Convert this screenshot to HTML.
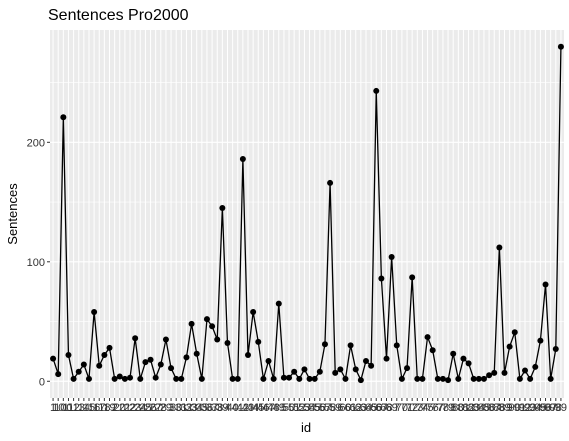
<!DOCTYPE html>
<html><head><meta charset="utf-8"><style>
body{margin:0;background:#fff;}
svg{display:block;font-family:"Liberation Sans",sans-serif;}
</style></head><body>
<svg id="chart" width="569" height="441">
<text x="48" y="20" font-size="16" fill="#000">Sentences Pro2000</text>
<text transform="translate(17,214) rotate(-90)" text-anchor="middle" font-size="13" fill="#000">Sentences</text>
<text x="306" y="432" text-anchor="middle" font-size="13" fill="#000">id</text>
</svg>
<script>
const values=[19,6,221,22,2,8,14,2,58,13,22,28,2,4,2,3,36,2,16,18,3,14,35,11,2,2,20,48,23,2,52,46,35,145,
32,2,2,186,22,58,33,2,17,2,65,3,3,8,2,10,2,2,8,31,166,7,10,2,30,10,1,17,13,243,86,19,104,
30,2,11,87,2,2,37,26,2,2,1,23,2,19,15,2,2,2,5,7,112,7,29,41,2,9,2,12,34,81,2,27,280];
const categories=[];for(let i=1;i<=100;i++)categories.push(String(i));categories.sort();
const yTicks=[0,100,200];
const yMinor=[50,150,250];
const svg=document.getElementById('chart');const NS='http://www.w3.org/2000/svg';
const L=50,R=564,T=30,B=398;
const ymin=-14,ymax=294;
const n=values.length;const step=(R-L)/(n-1+1.2);
function xs(i){return L+step*(0.6+i);}
function ys(v){return B-(v-ymin)/(ymax-ymin)*(B-T);}
function mk(t,a){const e=document.createElementNS(NS,t);for(const k in a)e.setAttribute(k,a[k]);svg.appendChild(e);return e;}
const bg=mk('rect',{x:L,y:T,width:R-L,height:B-T,fill:'#ebebeb'});


yMinor.forEach(v=>{const g=mk('line',{x1:L,x2:R,y1:ys(v),y2:ys(v),stroke:'#fff','stroke-width':0.6});

});
yTicks.forEach(v=>{const g=mk('line',{x1:L,x2:R,y1:ys(v),y2:ys(v),stroke:'#fff','stroke-width':1.2});


const tk=mk('line',{x1:L-3,x2:L,y1:ys(v),y2:ys(v),stroke:'#333','stroke-width':1});


const t=mk('text',{x:L-5,y:ys(v)+4,'text-anchor':'end','font-size':11,fill:'#333'});t.textContent=v;

});
categories.forEach((c,i)=>{const g=mk('line',{x1:xs(i),x2:xs(i),y1:T,y2:B,stroke:'#fff','stroke-width':1});


const tk=mk('line',{x1:xs(i),x2:xs(i),y1:B,y2:B+3,stroke:'#333','stroke-width':1});


const t=mk('text',{x:xs(i),y:B+13,'text-anchor':'middle','font-size':11,fill:'#333'});t.textContent=c;

});
const pts=values.map((v,i)=>xs(i)+','+ys(v)).join(' ');
const line=mk('polyline',{points:pts,fill:'none',stroke:'#000','stroke-width':1.3});


values.forEach((v,i)=>{const p=mk('circle',{cx:xs(i),cy:ys(v),r:3,fill:'#000'});

});
</script>
</body></html>
